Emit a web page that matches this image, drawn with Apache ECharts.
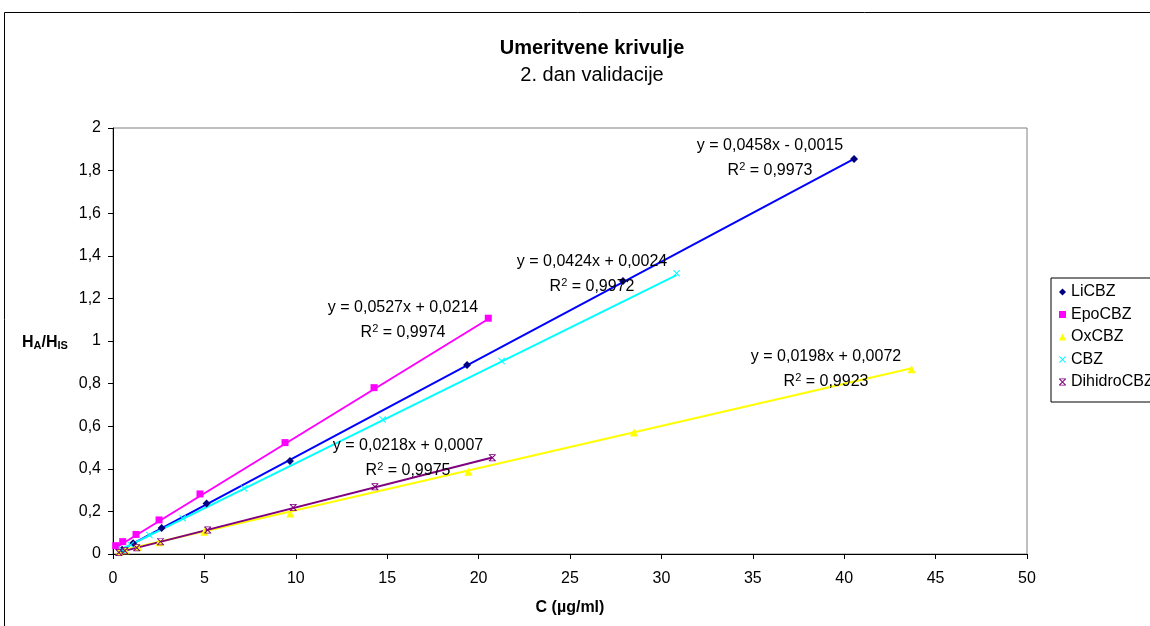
<!DOCTYPE html>
<html><head><meta charset="utf-8">
<script src="https://cdn.jsdelivr.net/npm/echarts@6/dist/echarts.min.js"></script>
<style>html,body{margin:0;padding:0;background:#fff}#c{width:1150px;height:626px}</style>
</head><body><div id="c"></div>
<script>
var seriesNames = ['LiCBZ','EpoCBZ','OxCBZ','CBZ','DihidroCBZ'];
var liCBZ = [[0.5,0.02],[1.1,0.05],[2.66,0.122],[5.12,0.237],[9.68,0.437],[19.37,0.887],[27.9,1.282],[40.54,1.854]];
var epoCBZ = [[0.15,0.039],[0.53,0.058],[1.26,0.092],[2.52,0.16],[4.76,0.282],[9.41,0.523],[14.28,0.781],[20.53,1.107]];
var oxCBZ = [[0.34,0.01],[0.68,0.018],[1.36,0.033],[2.53,0.055],[5.0,0.105],[9.7,0.19],[19.44,0.386],[28.5,0.571],[43.69,0.867]];
var cbz = [[0.48,0.02],[0.97,0.043],[1.99,0.089],[3.81,0.168],[7.17,0.308],[14.75,0.632],[21.26,0.906],[30.83,1.318]];
var dihidroCBZ = [[0.32,0.007],[0.65,0.015],[1.3,0.029],[2.6,0.058],[5.18,0.113],[9.86,0.218],[14.33,0.316],[20.75,0.452]];
var slopes = [0.0458,0.0527,0.0198,0.0424,0.0218];
var intercepts = [-0.0015,0.0214,0.0072,0.0024,0.0007];
var eqLabels = ['y = 0,0458x - 0,0015','y = 0,0527x + 0,0214','y = 0,0198x + 0,0072','y = 0,0424x + 0,0024','y = 0,0218x + 0,0007'];
var r2Labels = ['0,9973','0,9974','0,9923','0,9972','0,9975'];
var xTicks = {min:0,max:50,interval:5};
var yTicks = {min:0,max:2,interval:0.2};

var FONT = 'Liberation Sans, Arial, sans-serif';
var allData = [liCBZ, epoCBZ, oxCBZ, cbz, dihidroCBZ];
var lineColors = ['#0000FF','#FF00FF','#FFFF00','#00FFFF','#800080'];
var markerColors = ['#000080','#FF00FF','#FFFF00','#00FFFF','#800080'];
var symbols = ['diamond','rect','triangle',
  'path://M0,1L1,0L5,4L9,0L10,1L6,5L10,9L9,10L5,6L1,10L0,9L4,5Z',
  'path://M0,1L1,0L5,4L9,0L10,1L6,5L10,9L9,10L5,6L1,10L0,9L4,5Z M0,0L10,0L10,1L0,1Z M0,9L10,9L10,10L0,10Z'];
var symSizes = [8,7,8,7,7];
var labelPos = [[770,146],[403,308],[826,357],[592,262],[408,446]];

var series = [];
allData.forEach(function(d,i){
  var xs = d.map(function(p){return p[0];});
  var x0 = Math.min.apply(null,xs), x1 = Math.max.apply(null,xs);
  series.push({name: seriesNames[i]+' trend', type:'line', data:[[x0, slopes[i]*x0+intercepts[i]],[x1, slopes[i]*x1+intercepts[i]]],
    symbol:'none', lineStyle:{color:lineColors[i], width:2}, z:2, silent:true});
});
allData.forEach(function(d,i){
  series.push({name: seriesNames[i], type:'scatter', data:d, symbol:symbols[i], symbolSize:symSizes[i],
    itemStyle:{color:markerColors[i], opacity:1}, z:3});
});

var graphics = [
  {type:'rect', shape:{x:4.5,y:12.5,width:1200,height:700}, style:{fill:'none',stroke:'#000',lineWidth:1}, z:-10},
  {type:'text', x:22, y:341, style:{textVerticalAlign:'middle',
    text:'{m|H}{s|A}{m|/H}{s|IS}', rich:{m:{fontSize:16,fontWeight:'bold',fontFamily:FONT,fill:'#000',lineHeight:20,verticalAlign:'bottom'},
      s:{fontSize:11,fontWeight:'bold',fontFamily:FONT,fill:'#000',lineHeight:12,verticalAlign:'bottom'}}}}
];
labelPos.forEach(function(p,i){
  graphics.push({type:'text', x:p[0], y:p[1], style:{text:eqLabels[i], font:'16px '+FONT, fill:'#000', textAlign:'center', textVerticalAlign:'middle'}, z:5});
  graphics.push({type:'text', x:p[0], y:p[1]+24, style:{text:'{m|R}{s|2}{m| = '+r2Labels[i]+'}', textAlign:'center', textVerticalAlign:'middle',
    rich:{m:{fontSize:16,fontFamily:FONT,fill:'#000',lineHeight:18,verticalAlign:'bottom'},s:{fontSize:11,fontFamily:FONT,fill:'#000',lineHeight:18,verticalAlign:'top'}}}, z:5});
});

var chart = echarts.init(document.getElementById('c'));
chart.setOption({
  animation:false,
  backgroundColor:'#fff',
  title:{text:'Umeritvene krivulje', subtext:'2. dan validacije', left:587, top:33, textAlign:'center', itemGap:7,
    textStyle:{fontFamily:FONT,fontSize:20,fontWeight:'bold',color:'#000'},
    subtextStyle:{fontFamily:FONT,fontSize:20,color:'#000'}},
  legend:{orient:'vertical', left:1051, top:278, data:seriesNames, itemWidth:7, itemHeight:7, itemGap:6.5,
    padding:[6,5,12,8], borderColor:'#000', borderWidth:1, backgroundColor:'#fff',
    textStyle:{fontFamily:FONT,fontSize:16,color:'#000',lineHeight:15}},
  grid:{left:113, top:128, width:914, height:426, show:true, borderColor:'#808080', borderWidth:1, backgroundColor:'transparent'},
  xAxis:{type:'value', min:xTicks.min, max:xTicks.max, interval:xTicks.interval,
    name:'C (µg/ml)', nameLocation:'middle', nameGap:46, nameTextStyle:{fontFamily:FONT,fontSize:16,fontWeight:'bold',color:'#000'},
    axisLine:{lineStyle:{color:'#000',width:1}}, axisTick:{inside:false,length:5,lineStyle:{color:'#000'}},
    axisLabel:{fontFamily:FONT,fontSize:16,color:'#000',margin:17}, splitLine:{show:false}},
  yAxis:{type:'value', min:yTicks.min, max:yTicks.max, interval:yTicks.interval,
    axisLine:{show:true,lineStyle:{color:'#000',width:1}}, axisTick:{show:true,inside:false,length:5,lineStyle:{color:'#000'}},
    axisLabel:{fontFamily:FONT,fontSize:16,color:'#000',margin:12,formatter:function(v){return String(Math.round(v*10)/10).replace('.',',');}},
    splitLine:{show:false}},
  graphic:graphics,
  series:series
});
</script></body></html>
